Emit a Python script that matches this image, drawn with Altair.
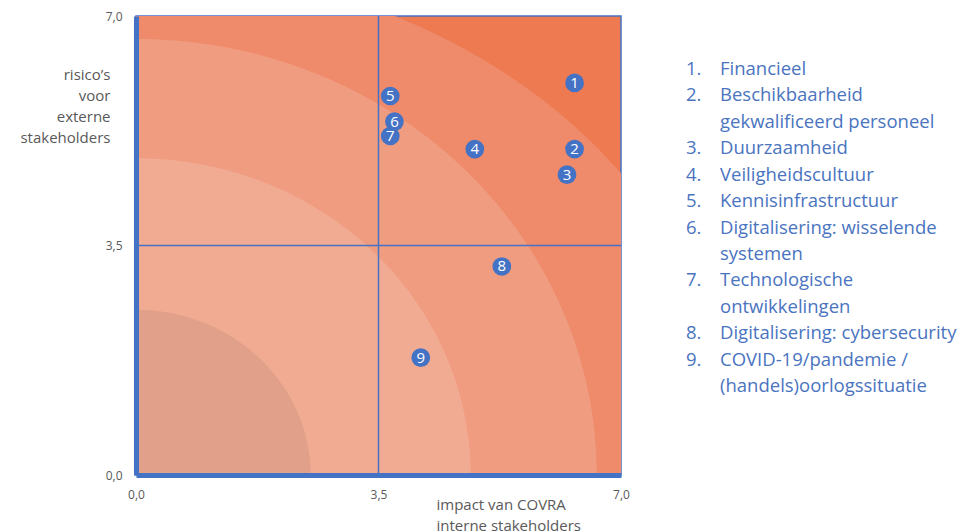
import altair as alt
import pandas as pd

# ---- data ----
numbers = ["1", "2", "3", "4", "5", "6", "7", "8", "9"]
x_vals = [6.33, 6.33, 6.22, 4.89, 3.67, 3.73, 3.67, 5.28, 4.11]
y_vals = [5.98, 4.97, 4.58, 4.97, 5.78, 5.39, 5.17, 3.18, 1.79]
legend_items = [
    ["Financieel"],
    ["Beschikbaarheid", "gekwalificeerd personeel"],
    ["Duurzaamheid"],
    ["Veiligheidscultuur"],
    ["Kennisinfrastructuur"],
    ["Digitalisering: wisselende", "systemen"],
    ["Technologische", "ontwikkelingen"],
    ["Digitalisering: cybersecurity"],
    ["COVID-19/pandemie /", "(handels)oorlogssituatie"],
]
band_rx = [8.7, 6.65, 4.83, 2.52]
band_ry = [7.75, 6.65, 4.83, 2.52]
band_colors = ["#EF8A6A", "#F09C80", "#F2AB93", "#E0A08A"]
background = "#EE7A52"
axis_values = [0, 3.5, 7]
mid_lines = [3.5]

BLUE = "#4472C4"
LEG_BLUE = "#4A74C0"
GREY = "#595959"
FONT = "Open Sans"

points = pd.DataFrame({"n": numbers, "x": x_vals, "y": y_vals})

rows = []
line = 0
for num, parts in zip(numbers, legend_items):
    for i, p in enumerate(parts):
        rows.append({"row": line, "num": f"{num}." if i == 0 else "", "label": p})
        line += 1
legend_df = pd.DataFrame(rows)

xscale = alt.Scale(domain=[0, 7], nice=False, zero=False)
yscale = alt.Scale(domain=[0, 7], nice=False, zero=False)
label_expr = "replace(format(datum.value, '.1f'), '.', ',')"

xaxis = alt.Axis(
    values=axis_values, labelExpr=label_expr, ticks=False, grid=False,
    domainColor=BLUE, domainWidth=5, labelColor=GREY, labelFontSize=12,
    labelFont=FONT, labelPadding=14, labelFlush=False, zindex=2,
    title=["impact van COVRA", "interne stakeholders"],
    titleFont=FONT, titleFontSize=15, titleFontWeight="normal", titleColor=GREY,
    titleAlign="left", titleAnchor="start", titleBaseline="top",
    titleX=300, titleY=22, titleLineHeight=21,
)
yaxis = alt.Axis(
    values=axis_values, labelExpr=label_expr, ticks=False, grid=False,
    domainColor=BLUE, domainWidth=5, labelColor=GREY, labelFontSize=12,
    labelFont=FONT, labelPadding=14, labelFlush=False, zindex=2,
    title=["risico\u2019s", "voor", "externe", "stakeholders"],
    titleFont=FONT, titleFontSize=15, titleFontWeight="normal", titleColor=GREY,
    titleAngle=0, titleAlign="right", titleBaseline="top",
    titleX=-26, titleY=51, titleLineHeight=21,
)


def X(field):
    return alt.X(f"{field}:Q", scale=xscale, axis=xaxis)


def Y(field):
    return alt.Y(f"{field}:Q", scale=yscale, axis=yaxis)


layers = []
for rx, ry, col in zip(band_rx, band_ry, band_colors):
    layers.append(
        alt.Chart(alt.sequence(0, 90.25, 0.25, as_="deg"))
        .transform_calculate(
            bx=f"{rx}*cos(datum.deg*PI/180)",
            by=f"{ry}*sin(datum.deg*PI/180)",
        )
        .mark_area(color=col, opacity=1, clip=True)
        .encode(x=X("bx"), y=Y("by"), y2=alt.datum(0))
    )

mid_df = pd.DataFrame({"m": mid_lines})
layers.append(
    alt.Chart(mid_df).mark_rule(color=BLUE, strokeWidth=1.5).encode(x=X("m"))
)
layers.append(
    alt.Chart(mid_df).mark_rule(color=BLUE, strokeWidth=1.5).encode(y=Y("m"))
)
layers.append(
    alt.Chart(points).mark_circle(size=350, color=BLUE, opacity=1).encode(x=X("x"), y=Y("y"))
)
layers.append(
    alt.Chart(points)
    .mark_text(color="white", font=FONT, fontSize=15, align="center", baseline="middle")
    .encode(x=X("x"), y=Y("y"), text="n:N")
)

main = alt.layer(*layers)

leg_y = alt.Y("row:Q", scale=alt.Scale(domain=[0, 12], range=[53, 370]), axis=None)
leg_num = alt.Chart(legend_df).mark_text(
    color=LEG_BLUE, font=FONT, fontSize=18.5, align="left", baseline="middle"
).encode(x=alt.value(550), y=leg_y, text="num:N")
leg_lab = alt.Chart(legend_df).mark_text(
    color=LEG_BLUE, font=FONT, fontSize=18.5, align="left", baseline="middle"
).encode(x=alt.value(584), y=leg_y, text="label:N")

chart = (
    alt.layer(main, leg_num, leg_lab)
    .resolve_scale(y="independent")
    .properties(
        width=485,
        height=459,
        autosize=alt.AutoSizeParams(type="none"),
        padding={"left": 128, "top": 8, "right": 337, "bottom": 56},
    )
    .configure_view(stroke=BLUE, strokeWidth=1.5, fill=background)
)

chart.save("out.html", embed_options={"renderer": "svg", "actions": False})
